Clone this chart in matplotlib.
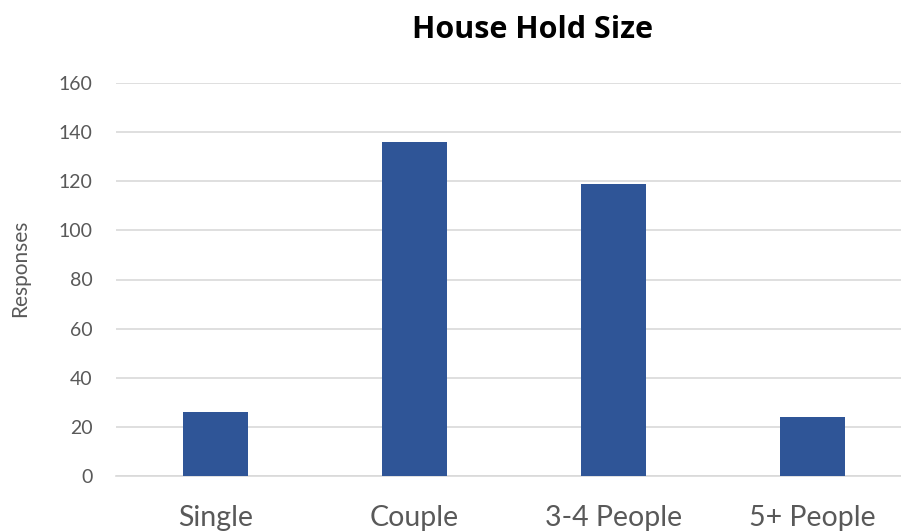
import matplotlib.pyplot as plt

# Household size survey responses
categories = ['Single', 'Couple', '3-4 People', '5+ People']
responses = [26, 136, 119, 24]
y_ticks = [0, 20, 40, 60, 80, 100, 120, 140, 160]

plt.rcParams['font.family'] = ['Lato', 'DejaVu Sans']

fig = plt.figure(figsize=(9.01, 5.31), dpi=100)
# plot area runs past the right edge, as in the original screenshot
ax = fig.add_axes([116 / 901, 1 - 476 / 531, 796 / 901, 393 / 531])

ax.bar(range(len(categories)), responses, width=0.33, color='#2F5597',
       zorder=3)

ax.set_xlim(-0.5, len(categories) - 0.5)
ax.set_ylim(0, 160)
ax.set_yticks(y_ticks)
ax.set_xticks(range(len(categories)))
ax.set_xticklabels(categories, fontsize=20.5, color='#595959')
ax.tick_params(axis='y', labelsize=14, labelcolor='#595959', length=0,
               pad=17)
ax.tick_params(axis='x', length=0, pad=21)

ax.grid(axis='y', color='#D9D9D9', linewidth=1.2, zorder=0)
for side in ['top', 'right', 'left']:
    ax.spines[side].set_visible(False)
ax.spines['bottom'].set_color('#D9D9D9')
ax.spines['bottom'].set_linewidth(1.2)

ax.set_ylabel('Responses', fontsize=15, color='#595959')
ax.yaxis.set_label_coords(-86 / 796, 0.529)

fig.text(533 / 901, 1 - 30 / 531, 'House Hold Size', fontsize=22,
         fontweight='bold', family=['Open Sans', 'DejaVu Sans'],
         ha='center', va='center', color='black')

fig.savefig('out.png', dpi=100)
